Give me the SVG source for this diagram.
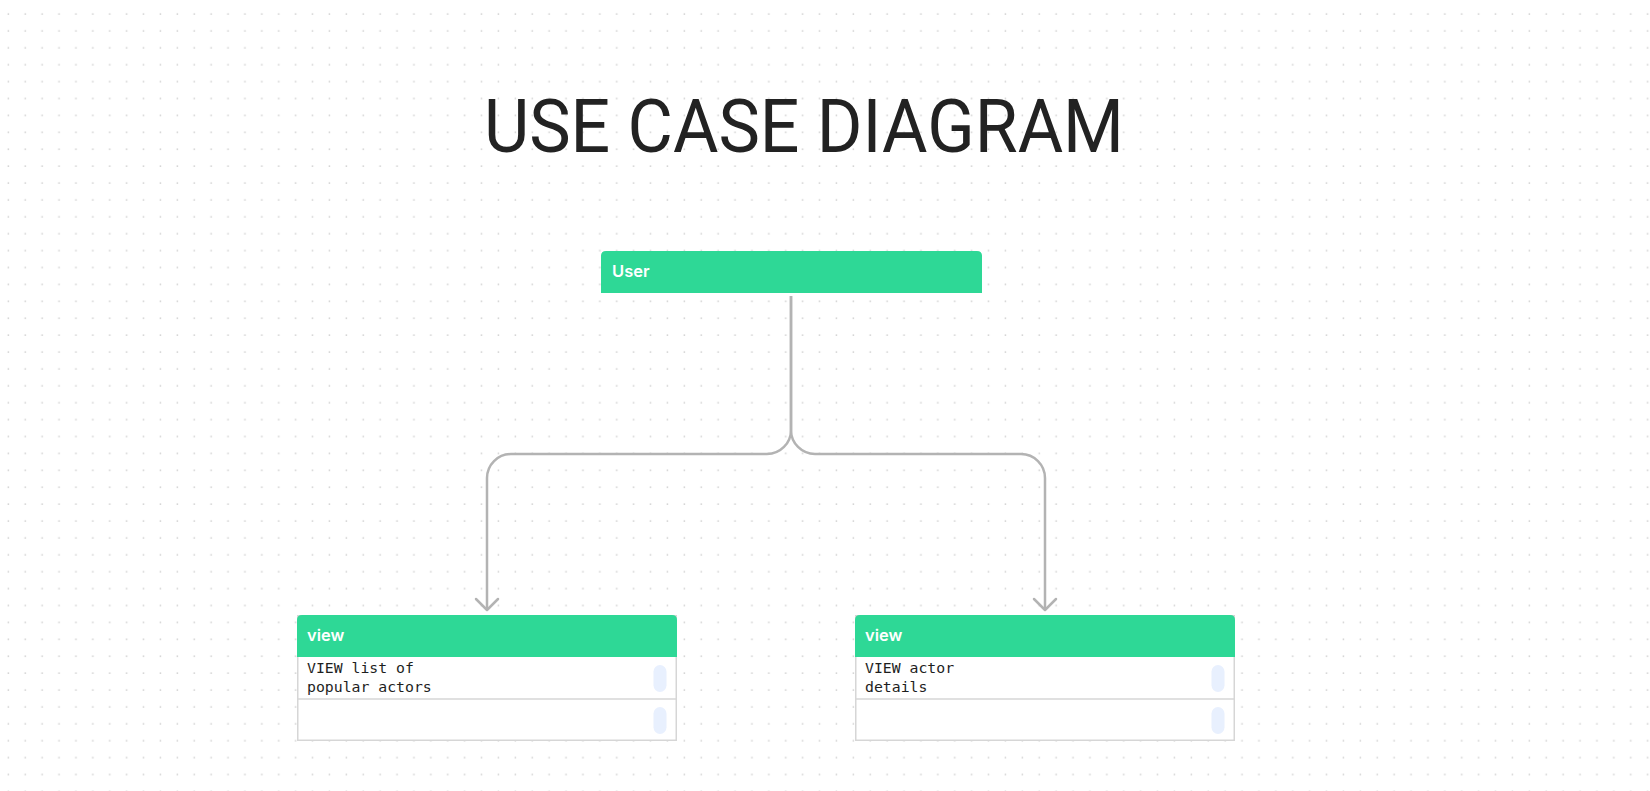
<svg xmlns="http://www.w3.org/2000/svg" width="1650" height="791" viewBox="0 0 1650 791">
<defs>
<pattern id="dots" patternUnits="userSpaceOnUse" x="0" y="0" width="16.9" height="16.9">
<rect x="7.6" y="13.3" width="1.5" height="1.5" fill="#cfcfcf"/>
</pattern>
<marker id="arr" markerWidth="30" markerHeight="30" refX="14" refY="15" orient="auto" markerUnits="userSpaceOnUse">
<path d="M3 4 L14 15 L3 26" fill="none" stroke="#b3b3b3" stroke-width="2.5" stroke-linecap="round" stroke-linejoin="round"/>
</marker>
<style>
.hdr{fill:#2ed896}
.box{fill:#ffffff;stroke:#d6d6d6;stroke-width:1.5}
.sep{stroke:#d6d6d6;stroke-width:1.5}
.htxt{font-family:Inter,"Liberation Sans",sans-serif;font-weight:600;font-size:16.5px;fill:#ffffff}
.mono{font-family:"DejaVu Sans Mono","Liberation Mono",monospace;font-size:14.8px;fill:#1e1e1e}
.pill{fill:#e8f0fe}
.conn{fill:none;stroke:#b3b3b3;stroke-width:2.5}
.title{font-family:Roboto,"Liberation Sans",sans-serif;font-size:75px;fill:#222222}
</style>
</defs>
<rect x="0" y="0" width="1650" height="791" fill="#ffffff"/>
<rect x="0" y="0" width="1650" height="791" fill="url(#dots)"/>
<text class="title" x="484" y="152" textLength="640" lengthAdjust="spacingAndGlyphs">USE CASE DIAGRAM</text>
<g id="connectors">
<path class="conn" d="M791 296 V430 A24 24 0 0 1 767 454 H511 A24 24 0 0 0 487 478 V610" marker-end="url(#arr)"/>
<path class="conn" d="M791 296 V430 A24 24 0 0 0 815 454 H1021 A24 24 0 0 1 1045 478 V610" marker-end="url(#arr)"/>
</g>
<g id="user">
<path class="hdr" d="M601 293 V256 Q601 251 606 251 H977 Q982 251 982 256 V293 Z"/>
<text class="htxt" x="612" y="277">User</text>
</g>
<g id="view-list">
<rect class="box" x="297.75" y="615.75" width="378.5" height="124.5"/>
<path class="hdr" d="M297 657 V620 Q297 615 302 615 H672 Q677 615 677 620 V657 Z"/>
<line class="sep" x1="297" y1="699" x2="677" y2="699"/>
<text class="htxt" x="307" y="641">view</text>
<text class="mono" x="307" y="673">VIEW list of</text>
<text class="mono" x="307" y="692">popular actors</text>
<rect class="pill" x="653.5" y="665" width="13" height="27" rx="6.5"/>
<rect class="pill" x="653.5" y="707" width="13" height="27" rx="6.5"/>
</g>
<g id="view-details">
<rect class="box" x="855.75" y="615.75" width="378.5" height="124.5"/>
<path class="hdr" d="M855 657 V620 Q855 615 860 615 H1230 Q1235 615 1235 620 V657 Z"/>
<line class="sep" x1="855" y1="699" x2="1235" y2="699"/>
<text class="htxt" x="865" y="641">view</text>
<text class="mono" x="865" y="673">VIEW actor</text>
<text class="mono" x="865" y="692">details</text>
<rect class="pill" x="1211.5" y="665" width="13" height="27" rx="6.5"/>
<rect class="pill" x="1211.5" y="707" width="13" height="27" rx="6.5"/>
</g>
</svg>
